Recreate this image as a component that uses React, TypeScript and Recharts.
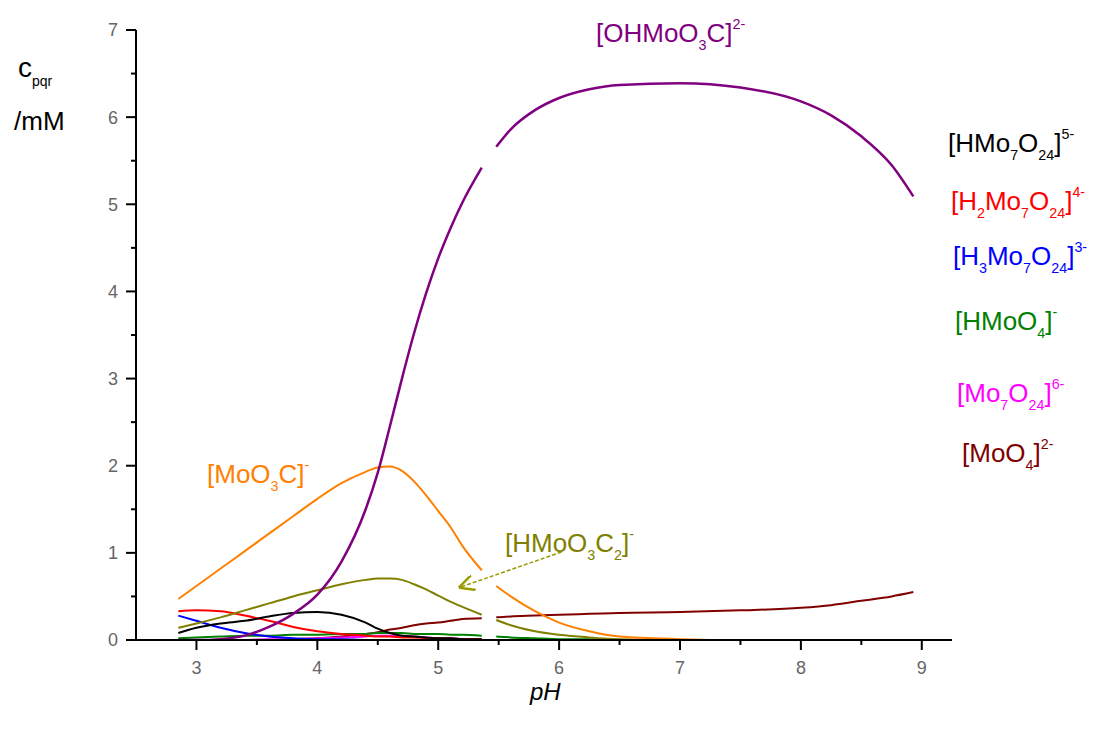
import { LineChart, Line, XAxis, YAxis, ReferenceLine } from "recharts";

// pH grid; 5.42 is the break in every curve
const ph = [2.85, 3.0, 3.2, 3.4, 3.6, 3.8, 4.0, 4.2, 4.4, 4.5, 4.6, 4.7, 4.8, 4.9, 5.0, 5.1, 5.2, 5.36, 5.42, 5.48, 5.6, 5.8, 6.0, 6.25, 6.5, 7.0, 7.5, 8.0, 8.25, 8.5, 8.75, 8.93];

const ohMoO3C = [0, 0, 0.01, 0.05, 0.15, 0.3, 0.52, 0.9, 1.5, 1.92, 2.45, 3.0, 3.52, 3.98, 4.38, 4.72, 5.02, 5.42, null, 5.66, 5.86, 6.08, 6.22, 6.32, 6.37, 6.39, 6.34, 6.18, 6.02, 5.78, 5.45, 5.09];
const moO3C = [0.47, 0.62, 0.82, 1.02, 1.22, 1.42, 1.62, 1.8, 1.93, 1.98, 1.99, 1.94, 1.82, 1.66, 1.48, 1.3, 1.08, 0.8, null, 0.62, 0.5, 0.33, 0.2, 0.1, 0.04, 0.01, 0, 0, 0, 0, 0, 0];
const hMoO3C2 = [0.14, 0.19, 0.26, 0.34, 0.42, 0.5, 0.57, 0.64, 0.69, 0.705, 0.705, 0.69, 0.64, 0.58, 0.51, 0.44, 0.38, 0.29, null, 0.23, 0.17, 0.1, 0.06, 0.03, 0.01, 0, 0, 0, 0, 0, 0, 0];
const hMo7O24 = [0.08, 0.14, 0.19, 0.22, 0.27, 0.31, 0.32, 0.29, 0.2, 0.13, 0.08, 0.05, 0.04, 0.03, 0.02, 0.02, 0.01, 0.01, null, 0, 0, 0, 0, 0, 0, 0, 0, 0, 0, 0, 0, 0];
const h2Mo7O24 = [0.33, 0.34, 0.33, 0.28, 0.22, 0.15, 0.1, 0.07, 0.05, 0.04, 0.04, 0.03, 0.03, 0.02, 0.02, 0.02, 0.01, 0.01, null, 0, 0, 0, 0, 0, 0, 0, 0, 0, 0, 0, 0, 0];
const h3Mo7O24 = [0.28, 0.22, 0.14, 0.08, 0.04, 0.02, 0.01, 0.01, 0, 0, 0, 0, 0, 0, 0, 0, 0, 0, null, 0, 0, 0, 0, 0, 0, 0, 0, 0, 0, 0, 0, 0];
const hMoO4 = [0.02, 0.03, 0.04, 0.05, 0.05, 0.06, 0.06, 0.07, 0.07, 0.08, 0.08, 0.08, 0.07, 0.07, 0.07, 0.06, 0.06, 0.05, null, 0.04, 0.03, 0.02, 0.01, 0.01, 0, 0, 0, 0, 0, 0, 0, 0];
const mo7O24 = [0, 0, 0, 0, 0.01, 0.01, 0.02, 0.03, 0.04, 0.05, 0.05, 0.05, 0.04, 0.03, 0.02, 0.02, 0.01, 0.01, null, 0, 0, 0, 0, 0, 0, 0, 0, 0, 0, 0, 0, 0];
const moO4 = [0, 0, 0, 0, 0, 0.01, 0.02, 0.04, 0.07, 0.09, 0.12, 0.14, 0.17, 0.19, 0.2, 0.22, 0.24, 0.25, null, 0.26, 0.27, 0.28, 0.29, 0.3, 0.31, 0.32, 0.34, 0.37, 0.4, 0.45, 0.5, 0.55];

const xTicks = [3, 4, 5, 6, 7, 8, 9];
const yTicks = [0, 1, 2, 3, 4, 5, 6, 7];
const xMinor = [3.5, 4.5, 5.5, 6.5, 7.5, 8.5];
const yMinor = [0.5, 1.5, 2.5, 3.5, 4.5, 5.5, 6.5];

const X_MIN = 2.5;
const X_MAX = 9.25;
const Y_MAX = 7;
const PLOT_W = 816;
const PLOT_H = 610;
// minor tick length (5px) in data units
const MINOR_DX = (5 * (X_MAX - X_MIN)) / PLOT_W;
const MINOR_DY = (5 * Y_MAX) / PLOT_H;

const data = ph.map((p, i) => ({
  ph: p,
  ohMoO3C: ohMoO3C[i],
  moO3C: moO3C[i],
  hMoO3C2: hMoO3C2[i],
  hMo7O24: hMo7O24[i],
  h2Mo7O24: h2Mo7O24[i],
  h3Mo7O24: h3Mo7O24[i],
  hMoO4: hMoO4[i],
  mo7O24: mo7O24[i],
  moO4: moO4[i],
}));

const series = [
  { key: "moO4", color: "#800000" },
  { key: "mo7O24", color: "#ff00ff" },
  { key: "hMoO4", color: "#008000" },
  { key: "h3Mo7O24", color: "#0000ff" },
  { key: "h2Mo7O24", color: "#ff0000" },
  { key: "hMo7O24", color: "#000000" },
  { key: "hMoO3C2", color: "#808000" },
  { key: "moO3C", color: "#ff8000" },
  { key: "ohMoO3C", color: "#800080" },
];

type Part = [string, "n" | "sub" | "sup"];

// species labels: text parts, colour, position in svg px
const labels: { parts: Part[]; color: string; x: number; y: number }[] = [
  { parts: [["[OHMoO", "n"], ["3", "sub"], ["C]", "n"], ["2-", "sup"]], color: "#800080", x: 588, y: 34 },
  { parts: [["[HMo", "n"], ["7", "sub"], ["O", "n"], ["24", "sub"], ["]", "n"], ["5-", "sup"]], color: "#000000", x: 940, y: 144 },
  { parts: [["[H", "n"], ["2", "sub"], ["Mo", "n"], ["7", "sub"], ["O", "n"], ["24", "sub"], ["]", "n"], ["4-", "sup"]], color: "#ff0000", x: 943, y: 202 },
  { parts: [["[H", "n"], ["3", "sub"], ["Mo", "n"], ["7", "sub"], ["O", "n"], ["24", "sub"], ["]", "n"], ["3-", "sup"]], color: "#0000ff", x: 945, y: 257 },
  { parts: [["[HMoO", "n"], ["4", "sub"], ["]", "n"], ["-", "sup"]], color: "#008000", x: 947, y: 322 },
  { parts: [["[Mo", "n"], ["7", "sub"], ["O", "n"], ["24", "sub"], ["]", "n"], ["6-", "sup"]], color: "#ff00ff", x: 949, y: 394 },
  { parts: [["[MoO", "n"], ["4", "sub"], ["]", "n"], ["2-", "sup"]], color: "#800000", x: 954, y: 454 },
  { parts: [["[MoO", "n"], ["3", "sub"], ["C]", "n"], ["-", "sup"]], color: "#ff8000", x: 199, y: 475 },
  { parts: [["[HMoO", "n"], ["3", "sub"], ["C", "n"], ["2", "sub"], ["]", "n"], ["-", "sup"]], color: "#808000", x: 497, y: 544 },
];

const FONT = "'Liberation Sans', Arial, sans-serif";

function Formula({ parts, color, x, y, size = 26 }: { parts: Part[]; color: string; x: number; y: number; size?: number }) {
  let off = 0;
  return (
    <text x={x} y={y} fill={color} fontSize={size} fontFamily={FONT}>
      {parts.map(([t, k], i) => {
        const target = k === "sub" ? size * 0.3 : k === "sup" ? -size * 0.5 : 0;
        const dy = target - off;
        off = target;
        return (
          <tspan key={i} dy={dy} fontSize={k === "n" ? size : size * 0.55}>
            {t}
          </tspan>
        );
      })}
    </text>
  );
}

export default function App() {
  return (
    <LineChart width={1090} height={716} data={data} margin={{ top: 22, right: 146, bottom: 44, left: 0 }}>
      <defs>
        <marker id="arrowHead" viewBox="0 0 10 10" refX="10" refY="5" markerWidth="16" markerHeight="16" markerUnits="userSpaceOnUse" orient="auto">
          <polyline points="0,0 10,5 0,10" fill="none" stroke="#999900" strokeWidth={1.5} />
        </marker>
      </defs>
      <XAxis
        dataKey="ph"
        type="number"
        domain={[X_MIN, X_MAX]}
        ticks={xTicks}
        allowDataOverflow
        tickSize={10}
        tickMargin={11}
        tickLine={{ stroke: "#000", strokeWidth: 2 }}
        height={40}
        axisLine={{ stroke: "#000", strokeWidth: 2 }}
        tick={{ fill: "#666", fontSize: 18, fontFamily: FONT }}
        interval={0}
      />
      <YAxis
        type="number"
        domain={[0, Y_MAX]}
        ticks={yTicks}
        allowDataOverflow
        tickSize={10}
        tickMargin={8}
        tickLine={{ stroke: "#000", strokeWidth: 2 }}
        width={128}
        axisLine={{ stroke: "#000", strokeWidth: 2 }}
        tick={{ fill: "#666", fontSize: 18, fontFamily: FONT }}
        interval={0}
      />
      {xMinor.map((v) => (
        <ReferenceLine
          key={`xm-${v}`}
          segment={[
            { x: v, y: 0 },
            { x: v, y: -MINOR_DY },
          ]}
          stroke="#000"
          strokeWidth={2}
          ifOverflow="visible"
        />
      ))}
      {yMinor.map((v) => (
        <ReferenceLine
          key={`ym-${v}`}
          segment={[
            { x: X_MIN, y: v },
            { x: X_MIN - MINOR_DX, y: v },
          ]}
          stroke="#000"
          strokeWidth={2}
          ifOverflow="visible"
        />
      ))}
      {series.map((s) => (
        <Line
          key={s.key}
          dataKey={s.key}
          type="monotone"
          stroke={s.color}
          strokeWidth={s.key === "ohMoO3C" ? 2.5 : 2}
          dot={false}
          activeDot={false}
          isAnimationActive={false}
        />
      ))}
      <ReferenceLine
        segment={[
          { x: 6.02, y: 1.01 },
          { x: 5.17, y: 0.6 },
        ]}
        stroke="#999900"
        strokeWidth={1.5}
        strokeDasharray="4 2"
        markerEnd="url(#arrowHead)"
        ifOverflow="visible"
      />
      {labels.map((l, i) => (
        <Formula key={i} parts={l.parts} color={l.color} x={l.x} y={l.y} />
      ))}
      <text x={10} y={69} fontSize={28} fontFamily={FONT} fill="#000">
        c<tspan dy={9} fontSize={14}>pqr</tspan>
      </text>
      <text x={6} y={122} fontSize={26} fontFamily={FONT} fill="#000">
        /mM
      </text>
      <text x={522} y={692} fontSize={24} fontStyle="italic" fontFamily={FONT} fill="#000">
        pH
      </text>
    </LineChart>
  );
}
